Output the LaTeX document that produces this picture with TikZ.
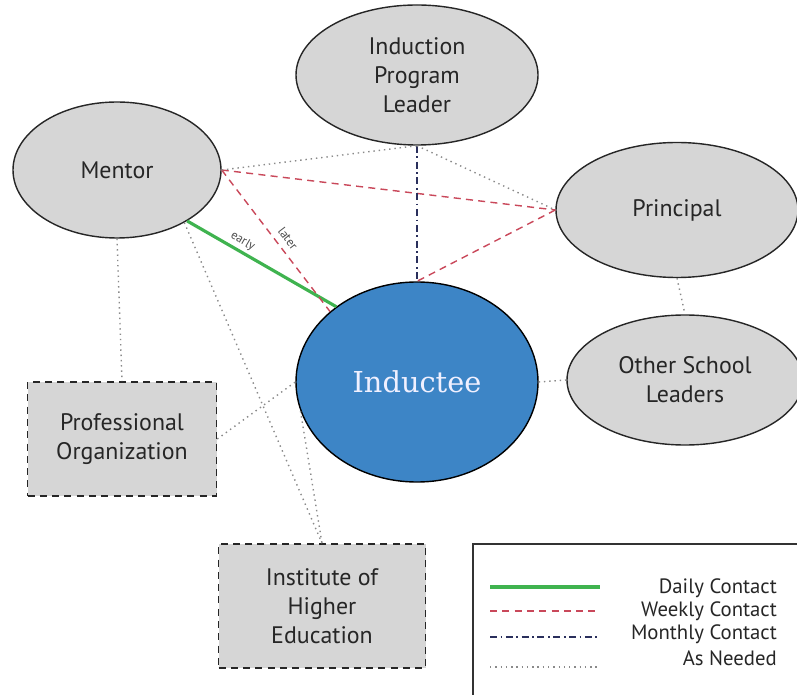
\documentclass[tikz,border=0pt]{standalone}
\usepackage{fontspec}
\setmainfont{PT Sans}
\newfontfamily\slabfont{DejaVu Serif}
\usepackage{tikz}
\usetikzlibrary{shapes.geometric}

\definecolor{bubblegray}{HTML}{D6D6D6}
\definecolor{inducteeblue}{HTML}{3D85C6}
\definecolor{dailygreen}{HTML}{3FB34F}
\definecolor{weeklyred}{HTML}{C9485A}
\definecolor{monthlynavy}{HTML}{2A2F5C}
\definecolor{neededgray}{HTML}{8A8A8A}

\begin{document}
\begin{tikzpicture}[
	bubble/.style={ellipse, draw=black!85, line width=0.8pt, fill=bubblegray, inner sep=0pt, align=center, text=black!85, font=\fontsize{13.6}{16.5}\selectfont},
	orgbox/.style={rectangle, draw=black!85, dash pattern=on 4pt off 3pt, line width=0.9pt, fill=bubblegray, inner sep=0pt, align=center, text=black!85, font=\fontsize{13.6}{16.5}\selectfont},
	daily/.style={draw=dailygreen, line width=1.8pt},
	weekly/.style={draw=weeklyred, line width=0.8pt, dash pattern=on 4pt off 3pt},
	monthly/.style={draw=monthlynavy, line width=0.8pt, dash pattern=on 4pt off 2pt on 1pt off 2pt},
	needed/.style={draw=neededgray, line width=0.8pt, dash pattern=on 0.8pt off 2.2pt},
	tag/.style={font=\fontsize{7}{8}\selectfont, text=black!70, inner sep=0.5pt},
	keytext/.style={anchor=east, text=black!85, font=\fontsize{11.8}{13}\selectfont},
	]

	\useasboundingbox (0, 0) rectangle (15.94, 13.88);
	\clip (0, 0) rectangle (15.94, 13.88);

	% people and groups
	\node [bubble, minimum width=4.16cm, minimum height=2.72cm] (mentor) at (2.34, 10.48) {Mentor};
	\node [bubble, minimum width=4.84cm, minimum height=2.80cm] (leader) at (8.34, 12.38) {Induction\\Program\\Leader};
	\node [bubble, minimum width=4.84cm, minimum height=2.70cm] (principal) at (13.54, 9.68) {Principal};
	\node [bubble, minimum width=4.72cm, minimum height=2.60cm] (others) at (13.70, 6.28) {Other School\\Leaders};
	\node [ellipse, draw=black, line width=0.8pt, fill=inducteeblue, minimum width=4.84cm, minimum height=4.00cm, text=white!94!blue, font=\slabfont\fontsize{16.4}{19}\selectfont] (inductee) at (8.34, 6.24) {Inductee};

	\node [orgbox, minimum width=3.78cm, minimum height=2.28cm] (proforg) at (2.44, 5.10) {Professional\\Organization};
	\node [orgbox, minimum width=4.14cm, minimum height=2.48cm] (institute) at (6.44, 1.76) {Institute of\\Higher\\Education};

	% contacts
	\draw [daily] (mentor.-36) -- node [tag, pos=0.34, sloped, above=1pt] {early} (inductee.137);
	\draw [weekly] (mentor.east) -- node [tag, pos=0.53, sloped, above=3pt] {later} (inductee.141);
	\draw [weekly] (mentor.east) -- (principal.west);
	\draw [weekly] (principal.west) -- (inductee.north);
	\draw [monthly] (leader.south) -- (inductee.north);

	\draw [needed] (mentor.east) -- (leader.south);
	\draw [needed] (leader.south) -- (principal.west);
	\draw [needed] (principal.south) -- (others.north);
	\draw [needed] (inductee.east) -- (others.west);
	\draw [needed] (mentor.south) -- (proforg.north);
	\draw [needed] (mentor.-38) -- (institute.north);
	\draw [needed] (proforg.east) -- (inductee.west);
	\draw [needed] (inductee.194) -- (institute.north);

	% legend
	\draw [draw=black!80, line width=0.9pt] (9.46, 3.0) rectangle (16.3, -0.3);
	\draw [daily] (9.80, 2.14) -- (12.00, 2.14);
	\draw [weekly] (9.80, 1.66) -- (12.00, 1.66);
	\draw [monthly] (9.80, 1.14) -- (12.00, 1.14);
	\draw [needed] (9.80, 0.54) -- (12.00, 0.54);
	\node [keytext] (ldaily) at (15.66, 2.12) {Daily Contact};
	\node [keytext] (lweekly) at (15.66, 1.66) {Weekly Contact};
	\node [keytext] (lmonthly) at (15.66, 1.20) {Monthly Contact};
	\node [keytext] (lneeded) at (15.66, 0.72) {As Needed};

\end{tikzpicture}
\end{document}
